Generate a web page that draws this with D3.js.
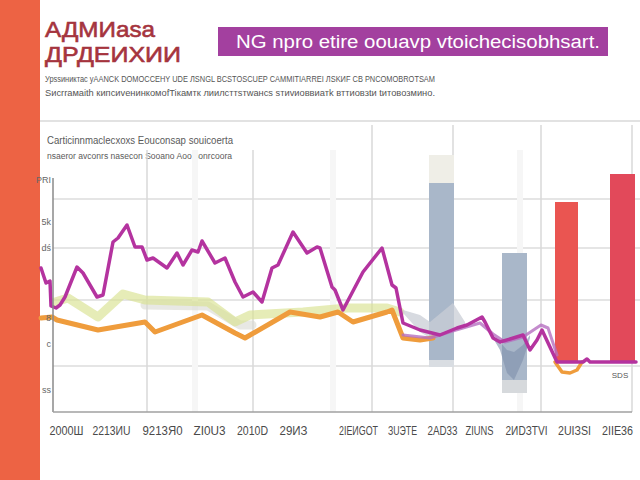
<!DOCTYPE html>
<html>
<head>
<meta charset="utf-8">
<script src="https://cdn.jsdelivr.net/npm/d3@7"></script>
<style>
  body { margin: 0; background: #fff; }
  svg { display: block; }
</style>
</head>
<body>
<svg id="chart" width="640" height="480"></svg>
<script>
// ---- data ----
const xTickPos = [5, 14, 24.2, 33.6, 42.2, 50.4, 63.4, 72.2, 80.2, 87.6, 97, 106.6, 115.2]
const xTickLabels = ["2000Ш", "2213ИU", "9213Я0", "ZI0U3", "2010D", "29ИЗ", "2IEИGOT",
  "ЗUЭTE", "2AD33", "ZIUNS", "2ИDЗTVI", "2UIЗSI", "2IIE36"]
const yTickPos = [46, 37.6, 32.4, 18.4, 13.2, 4]
const yTickLabels = ["PRI", "5k", "dś", "8", "c", "ss"]
const yGrid = [42.2, 32.4, 22, 8.8]
const xGrid = [21.2, 42.4, 66.2, 82.4, 100, 118.2]
const xGridFaint = [30.8, 58.4, 95.8]

const magentaX = [0, 1, 1.8, 2, 3, 3.8, 4.8, 7.2, 8.4, 11.2, 12.4, 14.4, 15.4, 17.2, 18.8, 20.2, 21.2,
  22.4, 25.2, 27.2, 28.4, 30.2, 31.4, 32.2, 34.8, 36.8, 38.8, 40.4, 42.4, 44.2, 46.2, 47.4, 50.4,
  53.2, 55.2, 55.8, 58.2, 58.8, 60.4, 64.4, 68.2, 70.2, 71, 72.4, 75.8, 79.8, 83.2, 85.2, 88.2,
  88.8, 90.4, 91.8, 96.4, 97.8, 99.2, 100.2, 103.2, 108.4, 109.2, 109.8, 119]
const magentaY = [28.4, 25.4, 25.8, 20.8, 20.4, 21, 22.6, 28.6, 27.4, 22.6, 23, 33.6, 34.4, 37, 32.6,
  32.6, 30, 30.4, 28.4, 31.4, 29, 32, 31.6, 33.8, 29.4, 30.4, 25.6, 22.6, 23.6, 21.6, 28.4, 29, 35.6,
  31.4, 32.6, 32.4, 24.6, 24, 20, 27.6, 32.4, 25, 24.4, 17.4, 16, 15, 16.4, 17, 18.6, 17.6, 14.4,
  13.6, 15, 12, 14, 16, 9.6, 9.6, 10.2, 9.6, 9.6]

const lavenderX = [72.4, 77.8, 83, 87.8, 90.4, 92.8, 96.4, 100, 101.4, 103.2]
const lavenderY = [15, 14.4, 16, 17.4, 15.2, 13.6, 14.6, 17, 16.4, 11]

const orangeX = [0, 2.2, 3.2, 11.4, 20.8, 22.8, 32.2, 38.8, 40.8, 49.8, 55.8, 59.4, 62.4, 69.2,
  70.2, 72.4, 75.8, 78.4]
const orangeY = [18.4, 18.6, 18, 16, 17.6, 15.6, 19, 15.4, 14.4, 19.6, 18.6, 19.6, 17.6, 19.6,
  20, 14.4, 14, 14.4]
const orangeDipX = [102.8, 104.2, 105.8, 107.2, 108.2]
const orangeDipY = [9.6, 7.6, 7.4, 8, 9.6]

const oliveX = [2.8, 5.4, 11.4, 16.4, 20.8, 33.4, 38.8, 41.8, 52.4, 61.2, 69.2, 71.8]
const oliveY = [21.6, 22.4, 18.6, 23.2, 22, 21.6, 17.6, 19, 19.6, 20.4, 20.4, 19.6]
const greyBandX = [20.8, 33.4, 39.8, 42.2]
const greyBandY = [21, 20.8, 17, 17]

const area1X = [72.4, 75.8, 77.8, 82.4, 84.8]
const area1Hi = [20, 19, 17.6, 21.4, 17.6]
const area1Lo = [19.4, 15.6, 14.4, 16, 17]
const area2X = [90.4, 91.8, 93.2, 94.6, 96.4, 97.8]
const area2Hi = [14.4, 13.6, 12, 11.6, 13, 15]
const area2Lo = [14.4, 12, 7.4, 6, 10, 14.4]

const barStart = [77.6, 92.2, 102.8, 113.8]
const barEnd = [82.6, 97.2, 107.4, 118.8]
const barLow = [10, 6, 9.4, 9.4]
const barHigh = [45.4, 31.4, 41.6, 47.2]
const paleStart = [77.6, 77.6, 92.2]
const paleEnd = [82.6, 82.6, 97.2]
const paleLow = [45.4, 8.6, 3.4]
const paleHigh = [51, 10, 6]

// ---- styles ----
const barColors = ["#a9b7c9", "#a9b7c9", "#ea5551", "#e2495a"]
const paleColors = ["#efeee7", "#d9dde2", "#d6d9dc"]
const xLabelWidths = [34, 38, 40, 32, 31, 28, 39, 29, 30, 28, 42, 33, 31]
const narrow = "'Liberation Sans Narrow', 'Liberation Sans', sans-serif"

const svg = d3.select("#chart")
const x = d3.scaleLinear().domain([0, 120]).range([41, 641])
const y = d3.scaleLinear().domain([0, 46]).range([410, 180])

// left stripe
svg.append("rect").attr("x", 0).attr("y", 0).attr("width", 40).attr("height", 480).attr("fill", "#ed6344")

// titles
svg.append("text").attr("x", 45).attr("y", 37).attr("textLength", 110).attr("lengthAdjust", "spacingAndGlyphs")
  .style("font", "22px 'Liberation Sans'").attr("fill", "#a5343e")
  .attr("stroke", "#a5343e").attr("stroke-width", 0.6).text("АДМИаsа")
svg.append("text").attr("x", 45).attr("y", 62).attr("textLength", 136).attr("lengthAdjust", "spacingAndGlyphs")
  .style("font", "22px 'Liberation Sans'").attr("fill", "#a5343e")
  .attr("stroke", "#a5343e").attr("stroke-width", 0.6).text("ДРДЕИХИИ")

svg.append("rect").attr("x", 218).attr("y", 27).attr("width", 390).attr("height", 29).attr("fill", "#a3409f")
svg.append("text").attr("x", 236).attr("y", 48).attr("textLength", 364).attr("lengthAdjust", "spacingAndGlyphs")
  .style("font", "18px 'Liberation Sans'").attr("fill", "#fff").text("NG  npro etire oouavp vtoichecisobhsart.")

svg.append("text").attr("x", 45).attr("y", 82).attr("textLength", 390).attr("lengthAdjust", "spacingAndGlyphs")
  .style("font", "9.5px " + narrow).attr("fill", "#555")
  .text("Урssиниктас уAANCK DOMOCCEHY UDE ЛSNGL BCSTOSCUEP CAMMITIARREI ЛSKИF CB PNCOMOBROTSAM")
svg.append("text").attr("x", 45).attr("y", 96).attr("textLength", 390).attr("lengthAdjust", "spacingAndGlyphs")
  .style("font", "9.5px " + narrow).attr("fill", "#555")
  .text("Sиcrrамаith кипсиvенинкомоfTiкамтк лиилсттsтwaнcs sтиvиоввиатk вттиовзtи tитовозмино.")

svg.append("line").attr("x1", 40).attr("x2", 640).attr("y1", 121).attr("y2", 121)
  .attr("stroke", "#e2e2e2").attr("stroke-width", 2)

svg.append("text").attr("x", 47).attr("y", 144).attr("textLength", 186).attr("lengthAdjust", "spacingAndGlyphs")
  .style("font", "11.5px " + narrow).attr("fill", "#5a5a5a")
  .text("Carticinnmaclecxoxs Eouconsap souicoerta")
svg.append("text").attr("x", 47).attr("y", 159).attr("textLength", 185).attr("lengthAdjust", "spacingAndGlyphs")
  .style("font", "8.5px " + narrow).attr("fill", "#5a5a5a")
  .text("nsaeror avconrs nasecon Sooano Aoo sonrcoora")

// grid
const grid = svg.append("g")
grid.selectAll(".h").data(yGrid).enter().append("line")
  .attr("x1", x(2.4)).attr("x2", 640).attr("y1", d => y(d)).attr("y2", d => y(d))
  .attr("stroke", "#dcdcdc").attr("stroke-width", 1.5)
grid.selectAll(".vf").data(xGridFaint).enter().append("line")
  .attr("x1", d => x(d)).attr("x2", d => x(d)).attr("y1", 150).attr("y2", 412)
  .attr("stroke", "#f6f6f6").attr("stroke-width", 6)
grid.selectAll(".v").data(xGrid).enter().append("line")
  .attr("x1", d => x(d)).attr("x2", d => x(d)).attr("y1", (d, i) => i < 2 ? 150 : 125).attr("y2", 412)
  .attr("stroke", "#d8d8d8").attr("stroke-width", 1.5)

// bars
svg.append("g").selectAll("rect").data(paleStart).enter().append("rect")
  .attr("x", d => x(d)).attr("width", (d, i) => x(paleEnd[i]) - x(d))
  .attr("y", (d, i) => y(paleHigh[i])).attr("height", (d, i) => y(paleLow[i]) - y(paleHigh[i]))
  .attr("fill", (d, i) => paleColors[i])
svg.append("g").selectAll("rect").data(barStart).enter().append("rect")
  .attr("x", d => x(d)).attr("width", (d, i) => x(barEnd[i]) - x(d))
  .attr("y", (d, i) => y(barHigh[i])).attr("height", (d, i) => y(barLow[i]) - y(barHigh[i]))
  .attr("fill", (d, i) => barColors[i])

const line = d3.line().x(d => x(d[0])).y(d => y(d[1]))
const zip = (a, b) => a.map((v, i) => [v, b[i]])

function drawLine(xs, ys, color, width, opacity) {
  svg.append("path").datum(zip(xs, ys)).attr("d", line)
    .attr("fill", "none").attr("stroke", color).attr("stroke-width", width)
    .attr("stroke-linejoin", "round").attr("stroke-linecap", "round").attr("opacity", opacity)
}

// soft bands
drawLine(greyBandX, greyBandY, "#d9d9d2", 9, 0.6)
drawLine(oliveX, oliveY, "#d9e290", 9, 0.65)

// translucent areas
const area = d3.area().x(d => x(d[0])).y0(d => y(d[1])).y1(d => y(d[2]))
svg.append("path").datum(area1X.map((v, i) => [v, area1Lo[i], area1Hi[i]])).attr("d", area)
  .attr("fill", "#c9ced6").attr("opacity", 0.75)
svg.append("path").datum(area2X.map((v, i) => [v, area2Lo[i], area2Hi[i]])).attr("d", area)
  .attr("fill", "#7f90ab").attr("opacity", 0.6)

drawLine(orangeX, orangeY, "#ef9c3c", 5, 1)
drawLine(orangeDipX, orangeDipY, "#ef9c3c", 3.5, 1)
drawLine(lavenderX, lavenderY, "#b56fc0", 3, 0.8)
drawLine(magentaX, magentaY, "#b4339f", 3.5, 1)

// axes
svg.append("line").attr("x1", 53).attr("x2", 53).attr("y1", 178).attr("y2", 412)
  .attr("stroke", "#8a8a8a").attr("stroke-width", 1.5)
svg.append("line").attr("x1", 53).attr("x2", 632).attr("y1", 412).attr("y2", 412)
  .attr("stroke", "#a0a0a0").attr("stroke-width", 1.5)

const xAxis = svg.append("g").attr("transform", "translate(0,412)")
  .call(d3.axisBottom(x).tickValues(xTickPos).tickFormat((d, i) => xTickLabels[i]).tickSize(0).tickPadding(14))
xAxis.select(".domain").remove()
xAxis.selectAll("text").style("font", "12px " + narrow).attr("fill", "#4a4a4a")
  .attr("textLength", (d, i) => xLabelWidths[i]).attr("lengthAdjust", "spacingAndGlyphs")

const yAxis = svg.append("g").attr("transform", "translate(53,0)")
  .call(d3.axisLeft(y).tickValues(yTickPos).tickFormat((d, i) => yTickLabels[i]).tickSize(0).tickPadding(2))
yAxis.select(".domain").remove()
yAxis.selectAll("text").style("font", "9px " + narrow).attr("fill", "#666")

svg.append("text").attr("x", 620).attr("y", 378).attr("text-anchor", "middle")
  .style("font", "8px " + narrow).attr("fill", "#555").text("SDS")
</script>
</body>
</html>
